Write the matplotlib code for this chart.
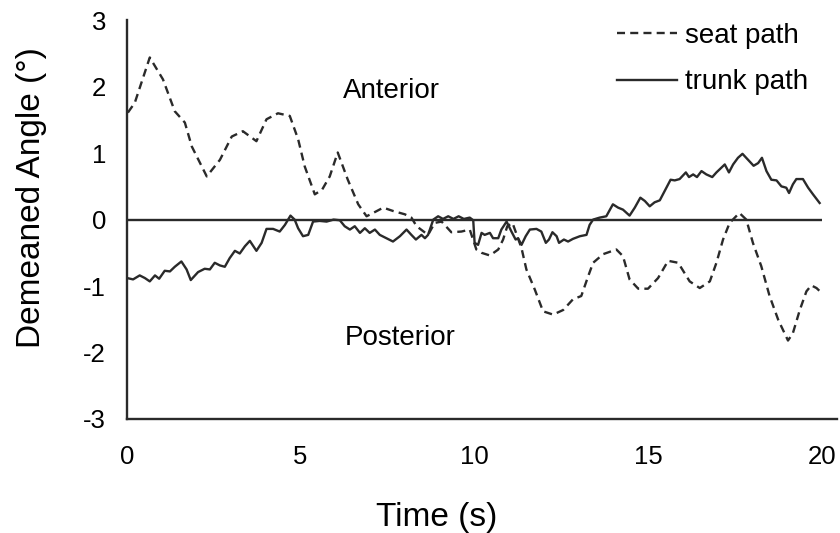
import matplotlib
matplotlib.use("Agg")
import matplotlib.pyplot as plt

plt.rcParams['font.family'] = ['Liberation Sans', 'DejaVu Sans']
plt.rcParams['axes.unicode_minus'] = False

# seat path (dashed)
seat_t = [0.03, 0.23, 0.66, 1.04, 1.38, 1.67, 1.87, 2.30, 2.68, 3.02, 3.34, 3.73,
          4.02, 4.35, 4.69, 4.93, 5.12, 5.41, 5.62, 5.84, 6.07, 6.36, 6.66, 6.90,
          7.09, 7.38, 7.66, 8.00, 8.19, 8.34, 8.67, 8.86, 9.06, 9.34, 9.63, 9.87,
          10.06, 10.21, 10.45, 10.69, 10.83, 10.95, 11.10, 11.36, 11.50, 11.74,
          11.98, 12.27, 12.56, 12.84, 13.08, 13.28, 13.42, 13.71, 14.09, 14.28,
          14.47, 14.72, 15.00, 15.29, 15.58, 15.87, 16.20, 16.49, 16.78, 16.97,
          17.16, 17.35, 17.63, 17.83, 18.02, 18.26, 18.50, 18.75, 19.03, 19.17,
          19.37, 19.56, 19.70, 19.85, 19.99]
seat_y = [1.61, 1.76, 2.44, 2.11, 1.63, 1.46, 1.10, 0.65, 0.90, 1.25, 1.33, 1.18,
          1.51, 1.60, 1.56, 1.21, 0.80, 0.38, 0.45, 0.65, 1.01, 0.60, 0.23, 0.05,
          0.10, 0.18, 0.13, 0.08, 0.03, -0.10, -0.23, -0.05, -0.03, -0.19, -0.18, -0.15,
          -0.45, -0.50, -0.54, -0.45, -0.30, -0.10, -0.05, -0.43, -0.75, -1.05,
          -1.38, -1.43, -1.36, -1.20, -1.15, -0.85, -0.65, -0.52, -0.45, -0.55,
          -0.90, -1.04, -1.04, -0.88, -0.62, -0.65, -0.93, -1.03, -0.93, -0.65,
          -0.30, -0.05, 0.10, 0.00, -0.35, -0.70, -1.15, -1.51, -1.82, -1.71,
          -1.36, -1.08, -0.99, -1.03, -1.10]

# trunk path (solid)
trunk_t = [0.01, 0.18, 0.37, 0.52, 0.66, 0.81, 0.93, 1.09, 1.24, 1.38, 1.57, 1.72,
           1.84, 2.05, 2.24, 2.39, 2.53, 2.68, 2.82, 2.96, 3.11, 3.25, 3.40, 3.54,
           3.73, 3.88, 4.02, 4.21, 4.40, 4.55, 4.71, 4.83, 4.93, 5.07, 5.22, 5.36,
           5.55, 5.75, 5.95, 6.13, 6.27, 6.42, 6.56, 6.71, 6.85, 6.99, 7.14, 7.28,
           7.47, 7.66, 7.86, 8.05, 8.19, 8.32, 8.48, 8.58, 8.67, 8.82, 8.96, 9.10,
           9.25, 9.40, 9.55, 9.70, 9.87, 9.97, 10.01, 10.11, 10.21, 10.30, 10.45,
           10.54, 10.69, 10.78, 10.93, 11.07, 11.19, 11.26, 11.36, 11.48, 11.60,
           11.79, 11.93, 12.06, 12.15, 12.25, 12.37, 12.44, 12.58, 12.70, 12.84,
           13.04, 13.23, 13.32, 13.42, 13.61, 13.80, 13.99, 14.14, 14.28, 14.47,
           14.62, 14.78, 14.91, 15.05, 15.19, 15.34, 15.48, 15.65, 15.77, 15.91,
           16.09, 16.18, 16.30, 16.41, 16.54, 16.68, 16.85, 16.97, 17.11, 17.21,
           17.33, 17.45, 17.59, 17.72, 17.88, 18.04, 18.17, 18.28, 18.41, 18.55,
           18.70, 18.84, 18.98, 19.06, 19.17, 19.27, 19.46, 19.61, 19.75, 19.94]
trunk_y = [-0.88, -0.90, -0.84, -0.88, -0.93, -0.84, -0.89, -0.77, -0.78, -0.71, -0.63, -0.75,
           -0.91, -0.79, -0.74, -0.75, -0.65, -0.69, -0.71, -0.58, -0.47, -0.51, -0.40, -0.32,
           -0.47, -0.35, -0.14, -0.14, -0.18, -0.08, 0.06, 0.00, -0.13, -0.25, -0.23, -0.03,
           -0.02, -0.03, 0.00, -0.01, -0.10, -0.15, -0.10, -0.20, -0.13, -0.20, -0.15, -0.23,
           -0.28, -0.33, -0.25, -0.15, -0.23, -0.30, -0.23, -0.28, -0.23, 0.00, 0.05, 0.01,
           0.05, 0.01, 0.05, 0.01, 0.03, -0.01, -0.35, -0.38, -0.20, -0.23, -0.20,
           -0.28, -0.28, -0.15, -0.03, -0.18, -0.30, -0.28, -0.38, -0.25, -0.15,
           -0.14, -0.18, -0.35, -0.30, -0.19, -0.25, -0.35, -0.30, -0.33, -0.29,
           -0.25, -0.23, -0.08, 0.00, 0.03, 0.05, 0.23, 0.18, 0.15, 0.06,
           0.18, 0.33, 0.28, 0.20, 0.26, 0.29, 0.43, 0.60, 0.59, 0.61,
           0.71, 0.64, 0.68, 0.64, 0.73, 0.68, 0.64, 0.71, 0.78, 0.83,
           0.71, 0.83, 0.93, 0.99, 0.90, 0.81, 0.85, 0.93, 0.73, 0.60,
           0.59, 0.50, 0.48, 0.40, 0.53, 0.61, 0.61, 0.48, 0.38, 0.25]

x_ticks = [0, 5, 10, 15, 20]
y_ticks = [-3, -2, -1, 0, 1, 2, 3]

fig = plt.figure(figsize=(8.4, 5.33), dpi=100)
ax = fig.add_axes([0.151, 0.214, 0.845, 0.748])

line_col = '#2a2a2a'
ax.plot(seat_t, seat_y, color=line_col, lw=1.7, dashes=(3.4, 2.2), label='seat path')
ax.plot(trunk_t, trunk_y, color=line_col, lw=1.7, label='trunk path')
ax.hlines(0, x_ticks[0], x_ticks[-1], color=line_col, lw=1.7)

ax.set_xlim(0, 20.43)
ax.set_ylim(-3, 3)
ax.set_xticks(x_ticks)
ax.set_yticks(y_ticks)
ax.tick_params(length=0, labelsize=18.5)
ax.tick_params(axis='y', pad=15)
ax.tick_params(axis='x', pad=19)
for s in ['top', 'right']:
    ax.spines[s].set_visible(False)
for s in ['left', 'bottom']:
    ax.spines[s].set_linewidth(1.7)
    ax.spines[s].set_color(line_col)

ax.text(7.63, 1.93, 'Anterior', fontsize=20, ha='center', va='center')
ax.text(7.88, -1.78, 'Posterior', fontsize=20, ha='center', va='center')

ax.legend(loc='upper right', bbox_to_anchor=(0.995, 1.057), frameon=False, fontsize=20,
          handlelength=2.15, handletextpad=0.3, labelspacing=0.75)

fig.text(0.52, 0.03, 'Time (s)', fontsize=24, ha='center', va='center')
fig.text(0.038, 0.63, 'Demeaned Angle (°)', fontsize=24, ha='center', va='center',
         rotation=90)

fig.savefig('out.png', dpi=100)
